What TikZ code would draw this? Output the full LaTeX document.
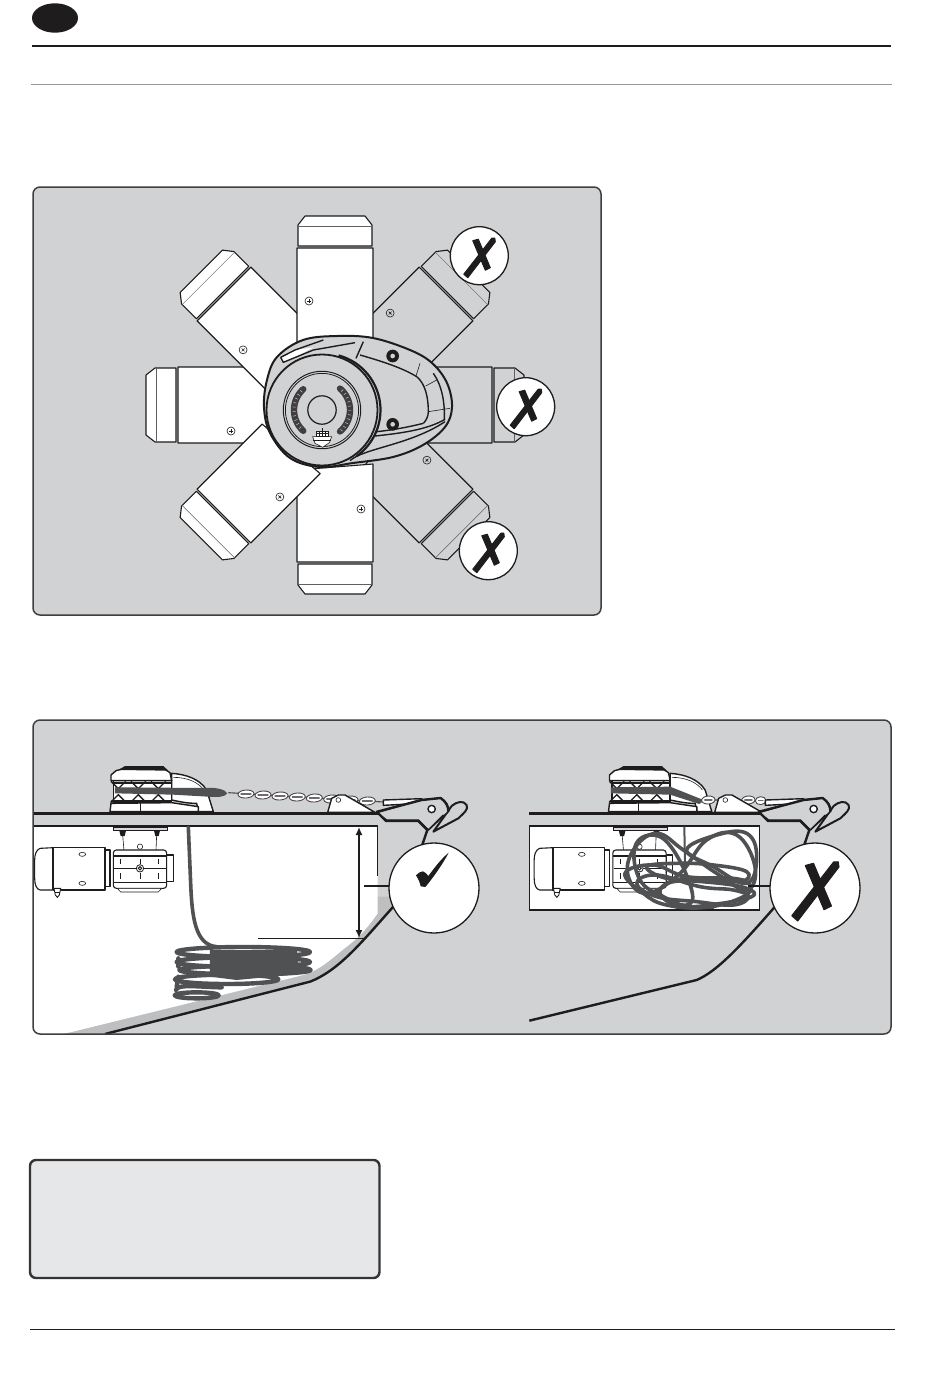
\documentclass[tikz,border=0pt]{standalone}
\usetikzlibrary{arrows.meta}
\definecolor{panel}{HTML}{D1D2D3}
\definecolor{note}{HTML}{E6E7E8}
\definecolor{ink}{HTML}{1E1C1D}
\definecolor{rope}{HTML}{505153}
\definecolor{strip}{HTML}{BDBFC1}
\tikzset{
  x=1pt,y=-1pt,
  motorline/.style={draw=ink,line width=1.1pt,line join=round},
  thinline/.style={draw=ink,line width=.6pt},
  heavy/.style={draw=ink,line width=2.4pt,line join=round},
  medium/.style={draw=ink,line width=1.4pt,line join=round},
  cable/.style={draw=rope,line width=3.6pt,line cap=round,line join=round},
  badge/.style={fill=white,draw=ink,line width=1.3pt},
  panelbox/.style={fill=panel},
  panelrim/.style={draw=ink!85,line width=1.5pt,rounded corners=7pt},
  zoomed/.style={x=.33333pt,y=-.33333pt},
}
% one motor of the top view, turned about the windlass centre
\newcommand\topmotor[2]{%
 \begin{scope}[shift={(335,405)},rotate=#1]
  \filldraw[motorline,fill=#2] (-38,-59) -- (-38,-157) -- (38,-157) -- (38,-65) -- cycle;
  \filldraw[motorline,fill=#2] (-37,-159) -- (-37,-180) -- (-30,-189) -- (30,-189) -- (37,-180) -- (37,-159) -- cycle;
  \draw[draw=ink!70,line width=.5pt] (-37,-179) -- (37,-179);
  \filldraw[thinline,fill=#2] (-26,-104) circle (4);
  \draw[thinline] (-28,-104) -- (-24,-104) (-26,-106) -- (-26,-102);
 \end{scope}}
% hand-drawn cross
\newcommand\crossmark[3]{%
 \begin{scope}[shift={(#1,#2)},scale=#3]
  \filldraw[draw=ink,fill=ink,line width=1pt,line join=round] (-6.5,-15) -- (-1,-16.5) -- (11,12) -- (6,14.5) -- cycle;
  \filldraw[draw=ink,fill=ink,line width=1pt,line join=round] (-15.5,18.5) -- (-11.5,22) -- (16,-14) -- (15.5,-17.5) -- (12.5,-17.5) -- cycle;
 \end{scope}}
% side view of the windlass (coordinates of a 3x crop at 30,760)
\newcommand\sidewindlass[1]{%
 \begin{scope}[shift={(30+#1,760)},zoomed]
  \filldraw[medium,fill=white] (425,40) .. controls (470,43) and (510,58) .. (530,90) -- (550,155) -- (505,155) -- (500,130) .. controls (470,130) and (450,125) .. (425,120) -- cycle;
  \draw[thinline] (430,52) .. controls (475,52) and (505,68) .. (522,90);
  \filldraw[medium,fill=white] (240,155) -- (243,130) -- (425,128) -- (505,140) -- (505,155) -- cycle;
  \draw[thinline] (330,130) -- (330,155);
  \filldraw[medium,fill=white] (250,60) rectangle (425,128);
  \foreach \u in {265,325,385}{
    \draw[ink,line width=1.3pt] (\u-22,64) -- (\u,86) -- (\u+22,64);
    \draw[ink,line width=1.3pt] (\u-22,126) -- (\u,104) -- (\u+22,126);}
  \filldraw[medium,fill=white] (243,62) -- (243,45) -- (258,32) -- (295,22) -- (395,22) -- (420,38) -- (425,62) -- cycle;
  \fill[ink] (285,18) -- (400,18) -- (415,32) -- (265,30) -- cycle;
  \draw[medium] (245,62) -- (425,62);
  \fill[ink] (250,65) -- (425,65) -- (425,72) -- (250,72) -- cycle;
  \fill[ink] (240,128) -- (425,126) -- (425,120) -- (245,120) -- cycle;
 \end{scope}}
% motor and gearbox under the deck
\newcommand\winchmotor[1]{%
 \begin{scope}[shift={(30+#1,760)},zoomed]
  \fill[ink] (248,198) rectangle (412,202);
  \filldraw[thinline,fill=white!85!black] (250,202) rectangle (412,212);
  \draw[thinline] (278,225) -- (282,272) (380,225) -- (378,272);
  \fill[ink] (268,212) -- (288,212) -- (284,228) -- (272,228) -- cycle;
  \fill[ink] (372,212) -- (390,212) -- (386,228) -- (376,228) -- cycle;
  \filldraw[motorline,fill=white] (70,263) -- (30,265) .. controls (18,270) and (14,285) .. (14,300) -- (14,355) .. controls (14,375) and (20,388) .. (30,390) -- (70,390) -- cycle;
  \filldraw[motorline,fill=white] (70,263) rectangle (225,390);
  \draw[ink,line width=1.8pt] (70,263) -- (70,390);
  \filldraw[ink,line width=.9pt,fill=white] (72,385) -- (92,385) -- (88,405) -- (82,412) -- (76,405) -- cycle;
  \draw[thinline] (74,396) -- (90,396);
  \filldraw[thinline,fill=white] (157,283) ellipse (10 and 6);
  \filldraw[thinline,fill=white] (157,370) ellipse (10 and 6);
  \filldraw[motorline,fill=white] (225,270) rectangle (240,380);
  \filldraw[motorline,fill=white] (410,285) rectangle (430,365);
  \filldraw[motorline,fill=white,rounded corners=3pt] (250,270) rectangle (410,385);
  \draw[motorline] (250,288) -- (410,288) (250,368) -- (410,368);
  \filldraw[thinline,fill=white] (262,385) -- (395,385) -- (385,396) -- (272,396) -- cycle;
  \draw[ink,line width=1.4pt] (252,325) -- (408,325);
  \foreach \u in {272,330,385}{\draw[ink,line width=.9pt] (\u,296) -- (\u,312) (\u,340) -- (\u,356);}
  \filldraw[thinline,fill=white] (330,260) circle (8);
  \filldraw[ink,line width=.8pt,fill=white] (330,325) circle (11);
  \filldraw[ink,line width=1pt,fill=white] (330,325) circle (5);
 \end{scope}}
% bow roller, anchor and chock (coordinates of a 3x crop at 30,750)
\newcommand\bowroller[1]{%
 \begin{scope}[shift={(30+#1,750)},zoomed]
  \filldraw[medium,fill=panel,line width=2pt] (1265,168) .. controls (1280,155) and (1300,150) .. (1310,165) .. controls (1316,180) and (1300,190) .. (1285,205) -- (1210,245) -- cycle;
  \filldraw[medium,fill=white] (1060,150) -- (1175,146) -- (1175,160) -- (1060,166) -- cycle;
  \filldraw[medium,fill=panel] (1170,150) -- (1232,144) .. controls (1250,155) and (1258,170) .. (1255,185) -- (1195,240) -- (1165,210) -- (1070,210) -- (1040,188) -- cycle;
  \draw[heavy] (1045,190) -- (1068,213) -- (1165,213) -- (1192,240);
  \draw[heavy] (1038,186) -- (1175,150) -- (1232,144) .. controls (1248,155) and (1256,170) .. (1255,185);
  \filldraw[medium,fill=white] (1205,177) circle (11);
  \draw[heavy] (1192,240) -- (1175,290);
  \draw[medium] (1195,240) -- (1240,195);
 \end{scope}}
\newcommand\chock[1]{%
 \begin{scope}[shift={(30+#1,750)},zoomed]
  \filldraw[medium,fill=white] (893,187) -- (905,145) -- (925,135) -- (945,135) -- (1035,187) -- cycle;
  \filldraw[thinline,fill=white] (925,150) circle (7);
 \end{scope}}
\newcommand\chainlink[3]{%
 \filldraw[draw=ink!80,line width=.9pt,fill=white,rotate around={4:(#1,#2)}] (#1,#2) ellipse (#3 and 12);
 \draw[draw=ink!65,line width=1.1pt,line cap=round] (#1-#3+9,#2) -- (#1+#3-9,#2);}
\begin{document}
\begin{tikzpicture}
\useasboundingbox (0,0) rectangle (950,1374);
\fill[white] (0,0) rectangle (950,1374);
% page furniture
\fill[ink] (55,18) ellipse (23 and 14.7);
\draw[ink,line width=2.2pt] (32,46) -- (891,46);
\draw[black!40,line width=.9pt] (31,84.5) -- (892,84.5);
\draw[ink,line width=1pt] (30,1329) -- (895,1329);
% ---- upper panel
\fill[panelbox,rounded corners=7pt] (33,187) rectangle (601,615);
\topmotor{315}{panel}
\topmotor{225}{panel}
\topmotor{90}{white}
\topmotor{45}{white}
\topmotor{0}{white}
\topmotor{270}{panel}
\topmotor{180}{white}
\topmotor{135}{white}
% windlass seen from above
\filldraw[draw=ink,line width=2pt,fill=panel,line join=round]
  plot[smooth cycle,tension=.6] coordinates {(264,407) (267,380) (277,357) (303,340) (337,336) (373,338) (410,350) (432,363) (447,383) (452,407) (445,427) (423,445) (393,457) (353,463) (320,467) (290,458) (270,433)};
\begin{scope}[shift={(260,330)},zoomed]
  \fill[white] (62,82) -- (105,60) -- (160,52) -- (100,85) -- (70,97) -- cycle;
  \draw[medium] (62,82) -- (70,97) -- (160,60) (62,82) -- (105,60) (105,60) -- (190,30);
  \draw[medium] (160,60) -- (285,38) (310,35) -- (288,85);
  \draw[medium] (300,75) .. controls (370,95) and (430,115) .. (470,140) .. controls (495,160) and (505,200) .. (505,245) .. controls (505,260) and (498,272) .. (490,280);
  \draw[thinline] (480,100) -- (468,138) (497,168) -- (530,150) (505,245) -- (570,235);
  \draw[medium] (520,130) .. controls (545,165) and (555,215) .. (553,270);
  \draw[medium] (345,318) .. controls (420,310) and (500,300) .. (555,268);
  \draw[medium] (350,305) .. controls (400,300) and (450,290) .. (490,280);
  \draw[medium] (270,392) .. controls (310,355) and (450,345) .. (555,275);
  \fill[ink] (398,78) circle (19); \fill[panel] (398,78) circle (7);
  \fill[ink] (398,283) circle (19); \fill[panel] (398,283) circle (7);
\end{scope}
\filldraw[draw=ink,line width=1.8pt,fill=panel] (322,410) circle (55.5);
\draw[ink,line width=2.2pt] plot[domain=75:-55,samples=30] ({324+56.5*cos(\x)},{410-56.5*sin(\x)});
\draw[ink,line width=1pt] (322,410) circle (38.7);
\draw[ink,line width=.8pt] (322,410) circle (36.6);
\draw[ink,line width=1.2pt] (322,410) circle (14.2);
\draw[ink!85,line width=6.4pt,line cap=round] plot[domain=132:228,samples=24] ({322+28*cos(\x)},{410-28*sin(\x)});
\draw[ink!85,line width=6.4pt,line cap=round] plot[domain=50:-50,samples=24] ({322+28*cos(\x)},{410-28*sin(\x)});
\foreach \a in {138,147,...,224,44,35,...,-46}{
  \draw[panel,line width=.45pt] ({322+26.5*cos(\a)},{410-26.5*sin(\a)}) -- ({322+29.5*cos(\a)},{410-29.5*sin(\a)});}
\begin{scope}[shift={(260,330)},zoomed]
  \filldraw[thinline,fill=white] (158,320) -- (215,320) -- (208,338) -- (188,352) -- (165,340) -- cycle;
  \filldraw[ink,line width=.9pt,fill=white] (170,303) rectangle (187,320);
  \filldraw[ink,line width=.9pt,fill=white] (187,303) rectangle (204,320);
  \draw[thinline] (170,311) -- (204,311) (178,303) -- (178,320) (195,303) -- (195,320) (187,293) -- (187,303) (160,330) -- (212,330);
\end{scope}
% crosses
\filldraw[badge] (479.3,255.7) circle (29);
\crossmark{479.3}{255.7}{1}
\filldraw[badge] (525.7,406.7) circle (29);
\crossmark{525.7}{406.7}{1}
\filldraw[badge] (488.3,550.7) circle (29);
\crossmark{488.3}{550.7}{1}
\draw[panelrim] (33,187) rectangle (601,615);
% ---- lower panel
\fill[panelbox,rounded corners=7pt] (33,720) rectangle (891,1034);
% left scene: space below deck
\begin{scope}[shift={(30,750)},zoomed]
  \fill[strip] (1043,440) -- (1090,440) -- (1085,475) .. controls (1000,570) and (930,650) .. (840,695) -- (225,852) -- (100,852) -- cycle;
  \fill[white] (12,228) -- (1043,228) -- (1043,490) .. controls (1015,530) and (990,560) .. (950,590) .. controls (900,630) and (870,660) .. (820,675) -- (100,852) -- (30,852) .. controls (18,852) and (12,845) .. (12,835) -- cycle;
  \draw[heavy] (9,228) -- (1043,228);
  \draw[medium] (1043,228) -- (1043,378);
\end{scope}
\winchmotor{0}
\sidewindlass{0}
% chain, left scene
\begin{scope}[shift={(30,750)},zoomed]
  \draw[draw=ink!80,line width=1.1pt] (595,128) -- (1060,156);
  \chainlink{648}{132}{24}
  \chainlink{699}{135}{24}
  \chainlink{750}{138}{24}
  \chainlink{802}{141}{24}
  \chainlink{853}{144}{24}
  \chainlink{905}{147}{24}
  \chainlink{960}{150}{24}
  \chainlink{1012}{153}{24}
\end{scope}
% chain band in the gypsy, left scene
\begin{scope}[shift={(30,760)},zoomed]
  \fill[rope] (255,82) -- (530,84) .. controls (560,82) and (585,88) .. (592,100) .. controls (585,112) and (560,112) .. (535,110) -- (430,104) -- (255,100) -- cycle;
\end{scope}
\chock{0}
% rope and coil, left scene
\begin{scope}[shift={(30,750)},zoomed]
  \draw[cable] (475,232) -- (482,400) .. controls (486,500) and (495,585) .. (560,590);
  \fill[rope] (540,600) -- (800,600) -- (810,672) -- (620,690) -- (540,680) -- cycle;
  \draw[cable,line width=4.4pt] (640,606) ellipse (200 and 15);
  \draw[cable,line width=4.4pt] (640,636) ellipse (200 and 15);
  \draw[cable,line width=4.4pt] (645,660) ellipse (197 and 13);
  \draw[cable,line width=4.4pt] (590,688) ellipse (155 and 14);
  \draw[cable,line width=4.4pt] (500,736) ellipse (66 and 9);
  \draw[cable,line width=4.4pt] (575,712) .. controls (520,712) and (440,700) .. (438,720);
  \draw[cable,line width=4.4pt] (445,625) -- (445,650) (445,680) -- (440,710);
\end{scope}
% dimension
\coordinate (dimtop) at (359,827);
\coordinate (dimbot) at (359,938);
\draw[ink,line width=1.5pt,{Latex[length=8pt,width=7pt]}-{Latex[length=8pt,width=7pt]}] (dimtop) -- (dimbot);
\draw[ink,line width=1.4pt] (258,938.7) -- (364,938.7);
\draw[ink,line width=1.4pt] (364,886) -- (392,886);
% hull and deck, left
\begin{scope}[shift={(30,750)},zoomed]
  \draw[heavy] (9,190) -- (1045,190);
  \draw[heavy] (225,852) -- (840,695) .. controls (930,660) and (1000,570) .. (1090,470);
\end{scope}
\bowroller{0}
\filldraw[badge] (434,888) circle (45);
\begin{scope}[shift={(30,750)},zoomed]
  \fill[ink] (1158,376) .. controls (1164,369) and (1172,364) .. (1179,364) .. controls (1186,368) and (1192,372) .. (1195,378) .. controls (1212,355) and (1232,328) .. (1256,308) .. controls (1240,340) and (1208,385) .. (1186,411) -- (1172,409) .. controls (1170,398) and (1165,387) .. (1158,376) -- cycle;
\end{scope}
% right scene
\begin{scope}[shift={(500,750)},zoomed]
  \filldraw[draw=ink,line width=1.5pt,fill=white] (88,228) rectangle (778,480);
\end{scope}
\winchmotor{499.5}
\sidewindlass{498.5}
\begin{scope}[shift={(500,750)},zoomed]
  \draw[draw=ink!80,line width=1.1pt] (600,150) -- (660,150) (730,150) -- (800,152);
  \chainlink{625}{150}{20}
  \chainlink{745}{150}{20}
  \chainlink{782}{152}{16}
\end{scope}
\begin{scope}[shift={(30+498.5,760)},zoomed]
  \fill[rope] (247,82) -- (425,80) -- (520,118) .. controls (522,125) and (520,130) .. (512,132) -- (425,104) -- (247,100) -- cycle;
\end{scope}
\chock{387}
\begin{scope}[shift={(500,750)},zoomed]
  \begin{scope}
   \clip (88,228) rectangle (778,480);
   \draw[rope,line width=2pt] (553,230) -- (556,400);
   \draw[cable] plot[smooth cycle,tension=.7] coordinates {(400,300) (470,250) (550,300) (650,370) (740,420) (765,350) (710,255) (620,270) (540,370) (440,430) (385,380)};
   \draw[cable] plot[smooth cycle,tension=.7] coordinates {(375,370) (460,345) (560,380) (700,385) (750,405) (730,440) (620,472) (500,465) (430,430)};
   \draw[cable] plot[smooth cycle,tension=.7] coordinates {(480,430) (540,468) (650,462) (755,440) (740,415) (640,398) (520,395)};
   \draw[cable] plot[smooth cycle,tension=.7] coordinates {(405,290) (460,255) (520,300) (575,420) (560,465) (490,440) (420,390)};
   \draw[cable] plot[smooth cycle,tension=.7] coordinates {(560,300) (650,255) (740,250) (770,320) (740,400) (640,350)};
   \draw[cable] plot[smooth cycle,tension=.7] coordinates {(410,400) (470,375) (600,410) (700,420) (745,440) (700,465) (590,455) (470,440)};
   \draw[cable] plot[smooth cycle,tension=.7] coordinates {(440,350) (530,340) (640,345) (740,365) (720,395) (600,385) (500,385)};
   \draw[cable] (530,472) -- (640,472);
  \end{scope}
  \draw[ink,line width=1.4pt] (745,408) -- (815,408);
  \draw[heavy] (88,812) -- (590,690) .. controls (650,665) and (720,590) .. (825,470);
  \draw[heavy] (88,190) -- (785,190);
\end{scope}
\bowroller{382}
\filldraw[badge] (815,888) circle (45);
\crossmark{815}{888}{1.5}
\draw[panelrim] (33,720) rectangle (891,1034);
% note box
\filldraw[draw=ink!90,line width=2.4pt,fill=note,rounded corners=6pt] (30,1160) rectangle (379.5,1278);
\end{tikzpicture}
\end{document}
